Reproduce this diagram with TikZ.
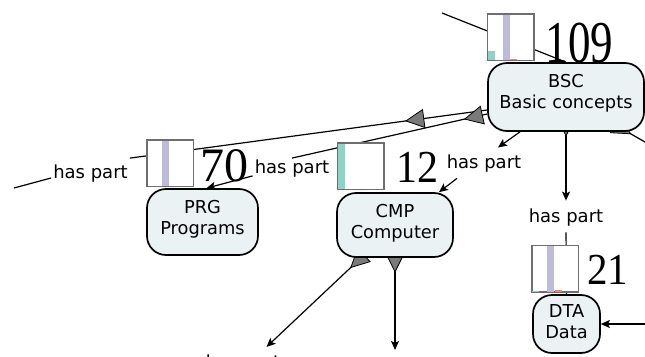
\documentclass[tikz,border=0pt]{standalone}
\usepackage{fontspec}
\newfontfamily\labelfont{DejaVu Sans}
\newfontfamily\tallyfont{Liberation Serif}
\usetikzlibrary{arrows.meta,decorations.markings,calc}

\definecolor{conceptfill}{HTML}{EAF2F4}
\definecolor{barteal}{HTML}{8DD3C7}
\definecolor{barlav}{HTML}{BEBADA}
\definecolor{barred}{HTML}{FB8072}
\definecolor{tailgray}{HTML}{7A7A7A}
\definecolor{chartframe}{HTML}{6E6E6E}

\pgfdeclarelayer{background}
\pgfsetlayers{background,main}

\tikzset{
  concept/.style={draw=black, line width=1.7pt, fill=conceptfill, rounded corners=19pt, inner sep=0pt},
  concepttext/.style={font=\labelfont\fontsize{17.8}{21}\selectfont, align=center, inner sep=0pt},
  linkphrase/.style={font=\labelfont\fontsize{18}{21}\selectfont, inner sep=2pt},
  chart/.style={draw=chartframe, line width=1pt, fill=white, minimum width=46pt, minimum height=46pt, inner sep=0pt},
  tally/.style={inner sep=0pt, font=\tallyfont\fontsize{#1}{#1}\selectfont},
  conn/.style={line width=1.2pt},
  arrowlink/.style={conn, -{Stealth[length=9pt,width=8pt,inset=2pt]}},
  tail/.style={postaction={decorate, decoration={markings, mark=at position #1 with
      {\filldraw[fill=tailgray, draw=black, line width=0.8pt] (9,0) -- (-9,9) -- (-9,-9) -- cycle;}}}},
}

% bars of a small count chart: teal, lavender and red heights
\newcommand\chartbars[4]{%
  \fill[barteal] ([xshift=0.5pt]#1.south west) rectangle ++(7,-#2);
  \fill[barlav] ([xshift=15.5pt]#1.south west) rectangle ++(7,-#3);
  \fill[barred] ([xshift=23pt]#1.south west) rectangle ++(7,-#4);
  \draw[chartframe, line width=1pt] (#1.south west) rectangle (#1.north east);
}

\begin{document}
\begin{tikzpicture}[x=1pt, y=-1pt]
\useasboundingbox (0,0) rectangle (645,356);
\clip (0,0) rectangle (645,356);

% concepts
\node[concept, minimum width=156pt, minimum height=68pt] (BSC) at (566,97) {};
\node[concepttext] (BSCt) at (566,93.4) {BSC\\Basic concepts};
\node[concept, minimum width=111pt, minimum height=66pt] (PRG) at (202.5,222) {};
\node[concepttext] (PRGt) at (202.5,219) {PRG\\Programs};
\node[concept, minimum width=116pt, minimum height=64pt] (CMP) at (395,225) {};
\node[concepttext] (CMPt) at (395,222.9) {CMP\\Computer};
\node[concept, minimum width=67pt, minimum height=58pt] (DTA) at (566.5,324) {};
\node[concepttext] (DTAt) at (566.5,321.4) {DTA\\Data};

% count charts and their totals
\node[chart] (C109) at (510.5,37) {};
\chartbars{C109}{10}{46}{1.5}
\node[chart] (C70) at (170,163) {};
\chartbars{C70}{1}{46}{0}
\node[chart] (C12) at (360.5,166) {};
\chartbars{C12}{46}{0}{0}
\node[chart] (C21) at (555,268.5) {};
\chartbars{C21}{1.5}{46}{2}

\node[tally=45] (N109) at (579.5,43) {\scalebox{1}[1.32]{109}};
\node[tally=48] (N70) at (224,165.5) {70};
\node[tally=42] (N12) at (417,167.5) {\scalebox{1}[1.09]{12}};
\node[tally=41] (N21) at (607.5,270) {\scalebox{1}[1.08]{21}};

% linking phrases
\node[linkphrase] (L1) at (90.5,174) {has part};
\node[linkphrase] (L2) at (292,169) {has part};
\node[linkphrase] (L3) at (484,163.4) {has part};
\node[linkphrase] (L4) at (566,217.5) {has part};
\node[linkphrase] (L5) at (243,364) {has part};

% loose ends of links leaving the view
\coordinate (farleft) at (14,188);
\coordinate (cmpdown) at (395,350);
\coordinate (dtain) at (660,324);
\coordinate (bsctop) at (442,13);
\coordinate (bscright) at (680,162);

\begin{pgfonlayer}{background}
\clip (0,0) rectangle (645,356);
\draw[conn, tail=73pt] ([yshift=-13pt]BSC.west) -- ([yshift=5pt]L1.north east);
\draw[conn] ([yshift=-4pt]L1.west) -- (farleft);
\draw[conn, tail=14pt] ([yshift=-17pt]BSC.west) -- (L2.north);
\draw[arrowlink] ([yshift=4pt]L2.south west) -- ([xshift=4pt]PRG.north);
\draw[arrowlink] ([xshift=-46pt]BSC.south) -- ([xshift=14pt,yshift=5pt]L3.north);
\draw[arrowlink] ([xshift=-27pt,yshift=-4pt]L3.south) -- ([xshift=44pt]CMP.north);
\draw[arrowlink, tail=0.01pt, shorten >=6pt] ([yshift=5pt]BSC.south) -- (L4.north);
\draw[conn, shorten <=4pt] (L4.south) -- (DTA.north);
\draw[arrowlink, tail=5pt, shorten >=9pt] ([xshift=-34pt]CMP.south) -- ([xshift=17pt]L5.north);
\draw[arrowlink, tail=5pt] (CMP.south) -- (cmpdown);
\draw[arrowlink] (dtain) -- (DTA.east);
\draw[conn] (bsctop) -- (BSC.north);
\draw[conn, tail=1pt] ([xshift=56pt,yshift=3pt]BSC.south) -- (bscright);
\end{pgfonlayer}
\end{tikzpicture}
\end{document}
